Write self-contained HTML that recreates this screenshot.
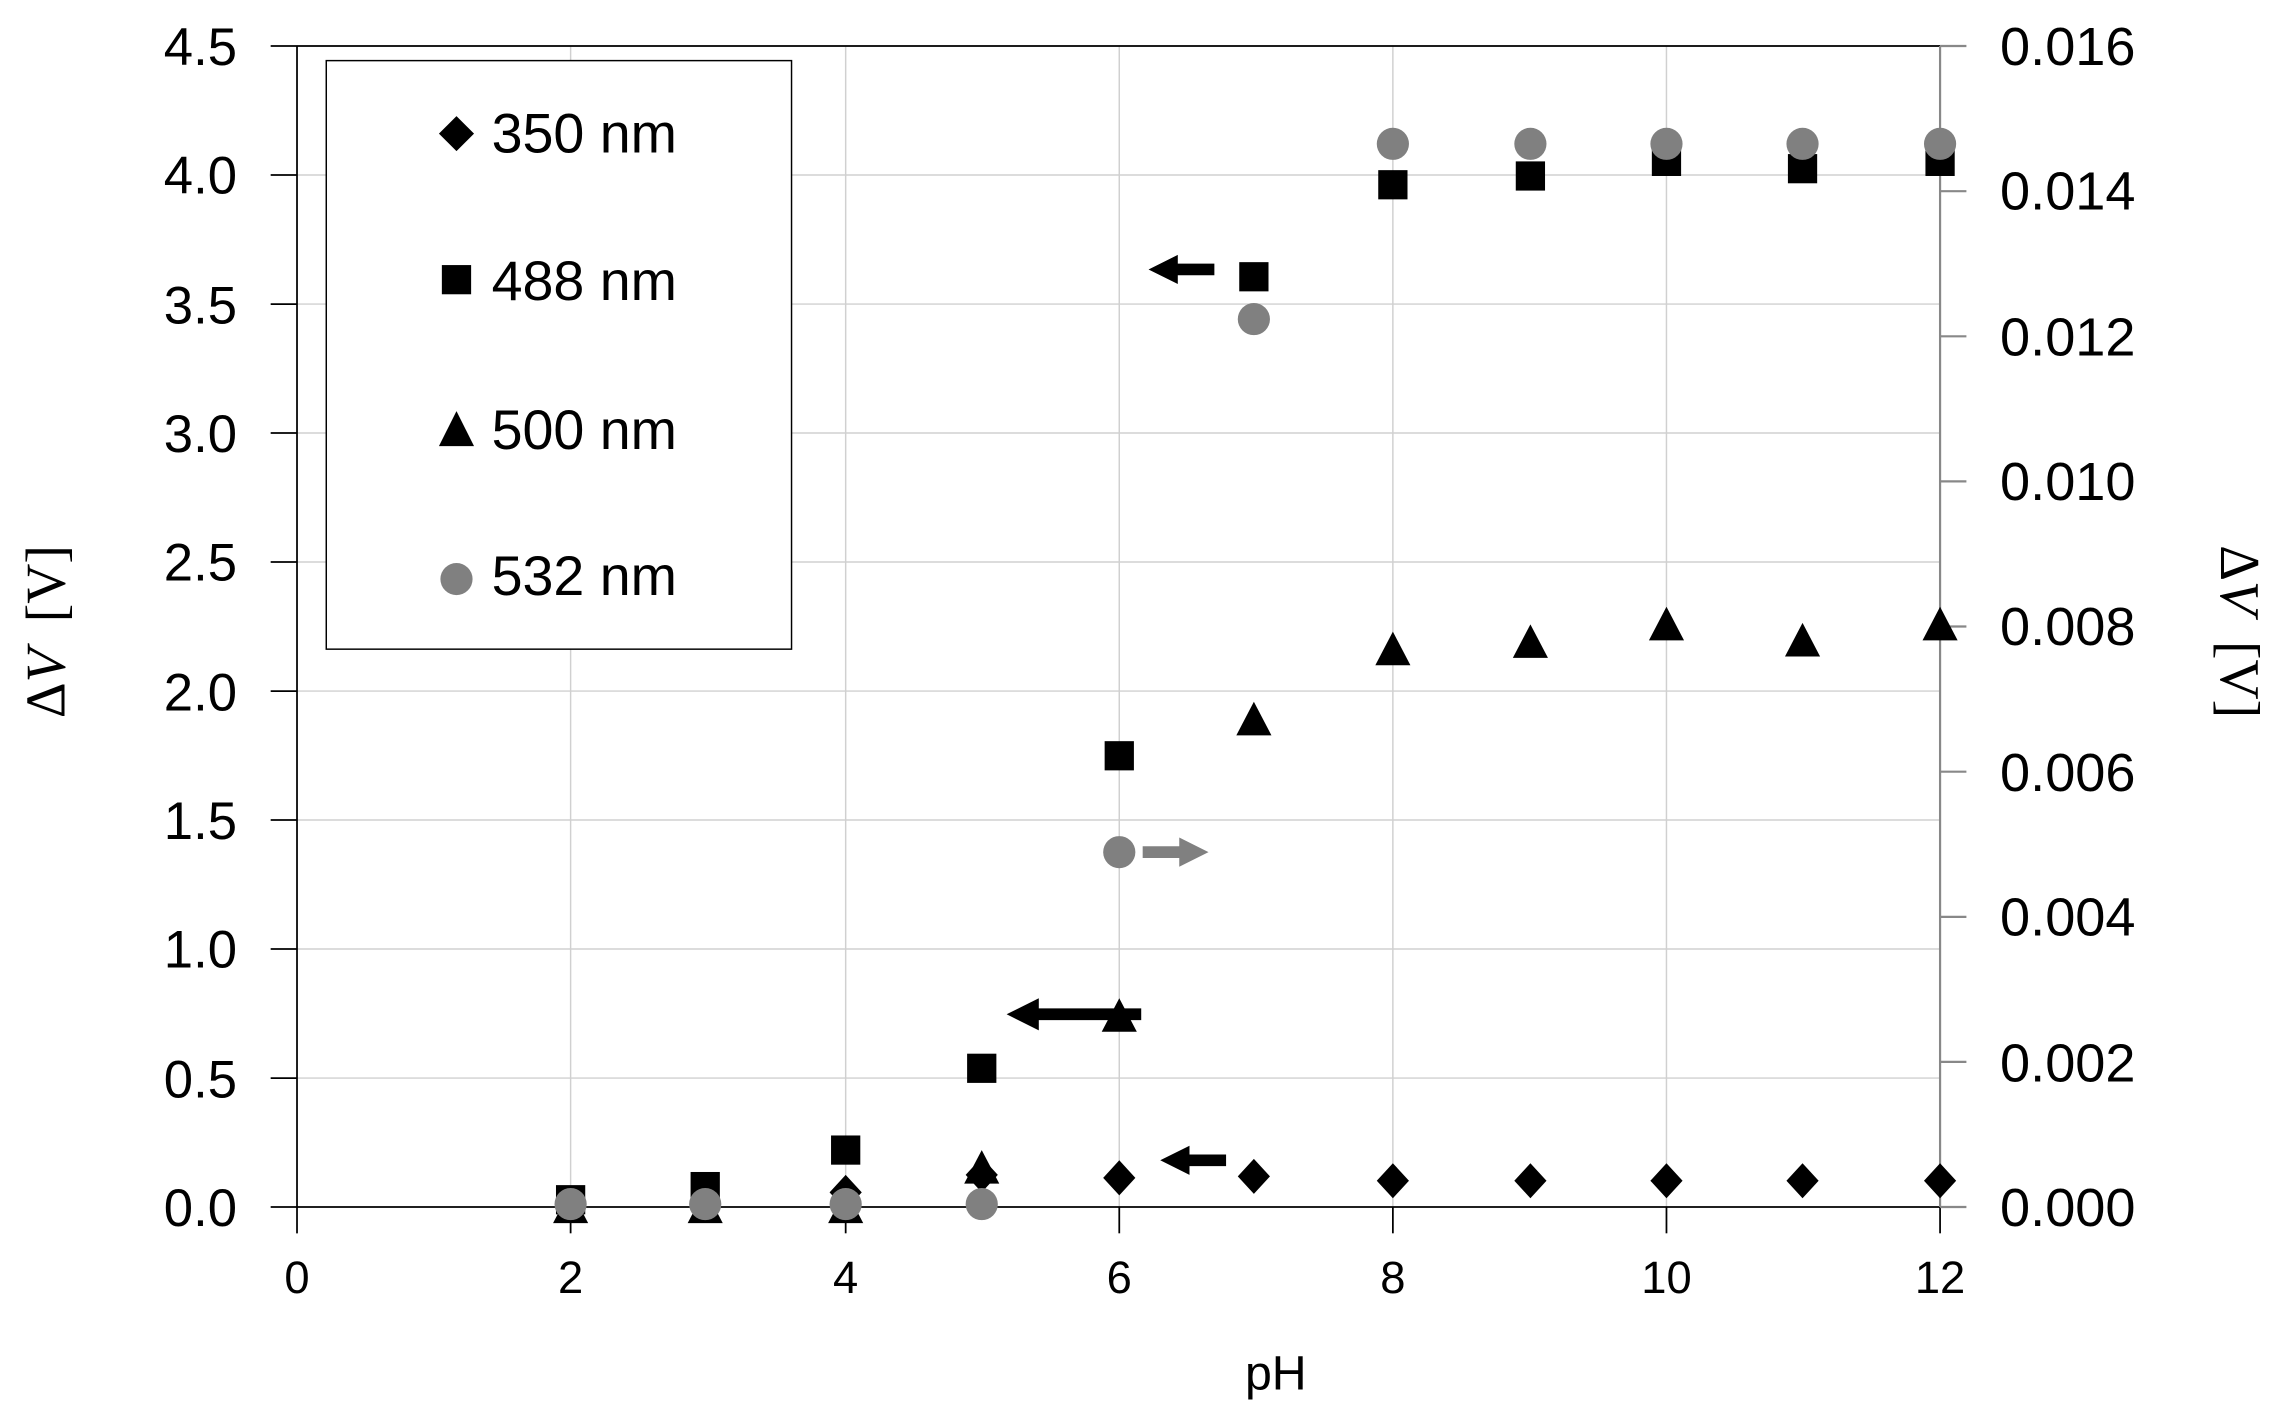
<!DOCTYPE html>
<html><head><meta charset="utf-8"><style>html,body{margin:0;padding:0;background:#fff}svg{display:block}</style></head>
<body>
<svg width="2293" height="1416" viewBox="0 0 2293 1416" xmlns="http://www.w3.org/2000/svg" font-family="'Liberation Sans', sans-serif">
<g transform="matrix(1.4631,0,0,1.4604,0,2.2)">
<g stroke="#d0d0d0" stroke-width="1">
<line x1="203" y1="30" x2="1326" y2="30"/><line x1="203" y1="118.3" x2="1326" y2="118.3"/><line x1="203" y1="206.7" x2="1326" y2="206.7"/><line x1="203" y1="295" x2="1326" y2="295"/><line x1="203" y1="383.3" x2="1326" y2="383.3"/><line x1="203" y1="471.7" x2="1326" y2="471.7"/><line x1="203" y1="560" x2="1326" y2="560"/><line x1="203" y1="648.3" x2="1326" y2="648.3"/><line x1="203" y1="736.7" x2="1326" y2="736.7"/>
<line x1="390" y1="30" x2="390" y2="825"/><line x1="578" y1="30" x2="578" y2="825"/><line x1="765" y1="30" x2="765" y2="825"/><line x1="952" y1="30" x2="952" y2="825"/><line x1="1139" y1="30" x2="1139" y2="825"/>
</g>
<g stroke="#000" stroke-width="1.2">
<line x1="203" y1="30" x2="1326" y2="30"/>
<line x1="203" y1="30" x2="203" y2="843"/>
<line x1="185" y1="825" x2="1326" y2="825"/>
<line x1="185" y1="30" x2="203" y2="30"/><line x1="185" y1="118.3" x2="203" y2="118.3"/><line x1="185" y1="206.7" x2="203" y2="206.7"/><line x1="185" y1="295" x2="203" y2="295"/><line x1="185" y1="383.3" x2="203" y2="383.3"/><line x1="185" y1="471.7" x2="203" y2="471.7"/><line x1="185" y1="560" x2="203" y2="560"/><line x1="185" y1="648.3" x2="203" y2="648.3"/><line x1="185" y1="736.7" x2="203" y2="736.7"/>
<line x1="390" y1="825" x2="390" y2="843"/><line x1="578" y1="825" x2="578" y2="843"/><line x1="765" y1="825" x2="765" y2="843"/><line x1="952" y1="825" x2="952" y2="843"/><line x1="1139" y1="825" x2="1139" y2="843"/><line x1="1326" y1="825" x2="1326" y2="843"/>
</g>
<g stroke="#888" stroke-width="1.5">
<line x1="1326" y1="30" x2="1326" y2="825"/>
<line x1="1326" y1="30" x2="1344" y2="30"/><line x1="1326" y1="129.4" x2="1344" y2="129.4"/><line x1="1326" y1="228.8" x2="1344" y2="228.8"/><line x1="1326" y1="328.1" x2="1344" y2="328.1"/><line x1="1326" y1="427.5" x2="1344" y2="427.5"/><line x1="1326" y1="526.9" x2="1344" y2="526.9"/><line x1="1326" y1="626.3" x2="1344" y2="626.3"/><line x1="1326" y1="725.6" x2="1344" y2="725.6"/><line x1="1326" y1="825" x2="1344" y2="825"/>
</g>
<g font-size="36" fill="#000" text-anchor="end">
<text x="162" y="43">4.5</text><text x="162" y="131">4.0</text><text x="162" y="220">3.5</text><text x="162" y="308">3.0</text><text x="162" y="396">2.5</text><text x="162" y="485">2.0</text><text x="162" y="573">1.5</text><text x="162" y="661">1.0</text><text x="162" y="750">0.5</text><text x="162" y="838">0.0</text>
</g>
<g font-size="37" fill="#000">
<text x="1367" y="43">0.016</text><text x="1367" y="142">0.014</text><text x="1367" y="242">0.012</text><text x="1367" y="341">0.010</text><text x="1367" y="440">0.008</text><text x="1367" y="540">0.006</text><text x="1367" y="639">0.004</text><text x="1367" y="739">0.002</text><text x="1367" y="838">0.000</text>
</g>
<g font-size="31" fill="#000" text-anchor="middle">
<text x="203" y="884">0</text><text x="390" y="884">2</text><text x="578" y="884">4</text><text x="765" y="884">6</text><text x="952" y="884">8</text><text x="1139" y="884">10</text><text x="1326" y="884">12</text>
<text x="872" y="950" font-size="33">pH</text>
</g>
<text transform="translate(44,431) rotate(-90)" text-anchor="middle" font-size="38" font-family="'Liberation Serif', serif"><tspan>Δ</tspan><tspan font-style="italic">V</tspan><tspan dx="18">[V]</tspan></text>
<text transform="translate(1518,431) rotate(90)" text-anchor="middle" font-size="38" font-family="'Liberation Serif', serif"><tspan>Δ</tspan><tspan font-style="italic">V</tspan><tspan dx="18">[V]</tspan></text>
<rect x="223" y="40" width="318" height="403" fill="#fff" stroke="#000" stroke-width="1"/>
<g font-size="38" fill="#000">
<path d="M312,78 L324,90 L312,102 L300,90Z"/><text x="336" y="103">350 nm</text>
<rect x="302" y="180" width="20" height="20"/><text x="336" y="204">488 nm</text>
<path d="M312,280 L324,304 L300,304Z"/><text x="336" y="306">500 nm</text>
<circle cx="312" cy="395" r="11" fill="#808080"/><text x="336" y="406">532 nm</text>
</g>
<g fill="#000">
<rect x="380" y="810" width="20" height="20"/><rect x="472" y="801" width="20" height="20"/><rect x="568" y="776" width="20" height="20"/><rect x="661" y="720" width="20" height="20"/><rect x="755" y="506" width="20" height="20"/><rect x="847" y="178" width="20" height="20"/><rect x="942" y="115" width="20" height="20"/><rect x="1036" y="109" width="20" height="20"/><rect x="1129" y="99" width="20" height="20"/><rect x="1222" y="104" width="20" height="20"/><rect x="1316" y="99" width="20" height="20"/>
</g>
<g fill="#000">
<path d="M390,813 l12,23 h-24z"/><path d="M482,813 l12,23 h-24z"/><path d="M578,813 l12,23 h-24z"/><path d="M671,786 l12,23 h-24z"/><path d="M765,682 l12,23 h-24z"/><path d="M857,479 l12,23 h-24z"/><path d="M952,431 l12,23 h-24z"/><path d="M1046,426 l12,23 h-24z"/><path d="M1139,414 l12,23 h-24z"/><path d="M1232,425 l12,23 h-24z"/><path d="M1326,414 l12,23 h-24z"/>
</g>
<g fill="#000">
<path d="M578,803 l11,12 l-11,12 l-11,-12z"/><path d="M671,791 l11,12 l-11,12 l-11,-12z"/><path d="M765,793 l11,12 l-11,12 l-11,-12z"/><path d="M857,792 l11,12 l-11,12 l-11,-12z"/><path d="M952,795 l11,12 l-11,12 l-11,-12z"/><path d="M1046,795 l11,12 l-11,12 l-11,-12z"/><path d="M1139,795 l11,12 l-11,12 l-11,-12z"/><path d="M1232,795 l11,12 l-11,12 l-11,-12z"/><path d="M1326,795 l11,12 l-11,12 l-11,-12z"/>
</g>
<g fill="#808080">
<circle cx="390" cy="823" r="11"/><circle cx="482" cy="823" r="11"/><circle cx="578" cy="823" r="11"/><circle cx="671" cy="823" r="11"/><circle cx="765" cy="582" r="11"/><circle cx="857" cy="217" r="11"/><circle cx="952" cy="97" r="11"/><circle cx="1046" cy="97" r="11"/><circle cx="1139" cy="97" r="11"/><circle cx="1232" cy="97" r="11"/><circle cx="1326" cy="97" r="11"/>
</g>
<g fill="#000">
<path d="M785,183 l20,-10 v6 h25 v8 h-25 v6z"/>
<path d="M688,693 l22,-11 v7 h70 v8 h-70 v7z"/>
<path d="M793,793 l20,-10 v6 h25 v8 h-25 v6z"/>
</g>
<path d="M826,582 l-20,-10 v6 h-25 v8 h25 v6z" fill="#808080"/>
</g>
</svg>
</body></html>
